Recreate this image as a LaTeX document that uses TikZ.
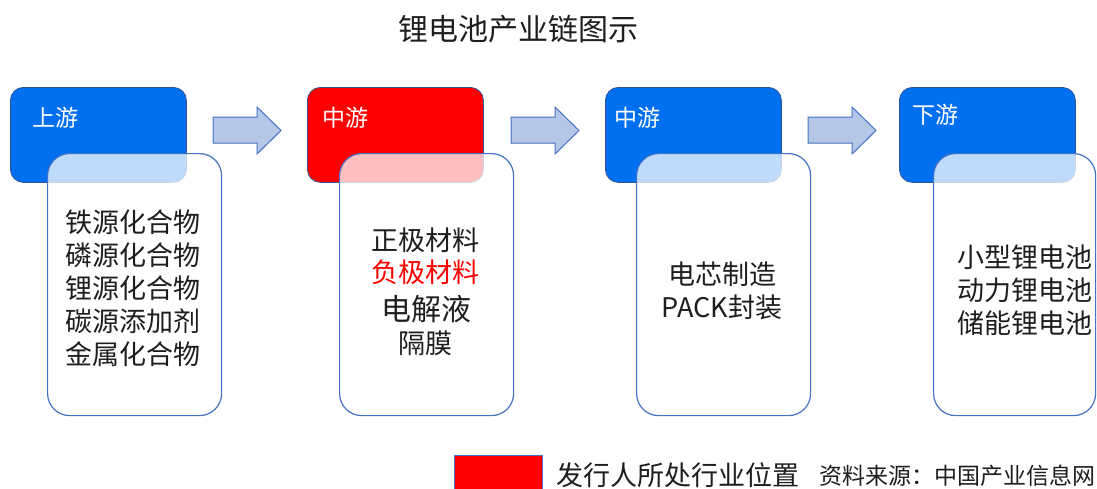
\documentclass[tikz,border=0pt]{standalone}
\usepackage{fontspec}
\setmainfont{Noto Sans CJK SC}
\definecolor{hdrblue}{RGB}{0,112,240}
\definecolor{hdrred}{RGB}{255,0,0}
\definecolor{hdrline}{RGB}{47,85,151}
\definecolor{boxline}{RGB}{68,114,196}
\definecolor{arrfill}{RGB}{180,199,231}
\definecolor{txtgray}{RGB}{30,30,30}
\tikzset{
  hdr/.style={draw=hdrline, line width=0.8pt, rounded corners=13pt, anchor=north west,
    minimum width=176pt, minimum height=95pt, inner sep=0pt},
  bodybox/.style={draw=boxline, line width=1.2pt, rounded corners=22pt, anchor=north west,
    fill=white, fill opacity=0.75, minimum width=174pt, minimum height=262pt, inner sep=0pt},
  hdrtxt/.style={text=white, font=\fontsize{23}{26}\selectfont, anchor=west, inner sep=0pt},
  bodytxt/.style={text=txtgray, font=\fontsize{27}{33}\selectfont, align=center, inner sep=0pt},
  blockarrow/.style={draw=boxline, line width=1pt, fill=arrfill, line join=miter},
}
\begin{document}
\begin{tikzpicture}[x=1pt,y=-1pt]
\useasboundingbox (0,0) rectangle (1097,488);
\fill[white] (0,0) rectangle (1097,488);

\node[text=txtgray, font=\fontsize{30}{32}\selectfont] (title) at (518,29) {锂电池产业链图示};

% headers
\node[hdr, fill=hdrblue] (h1) at (10,87) {};
\node[hdr, fill=hdrred] (h2) at (307,87) {};
\node[hdr, fill=hdrblue] (h3) at (605,87) {};
\node[hdr, fill=hdrblue] (h4) at (899,87) {};

\node[hdrtxt] (t1) at (32,118) {上游};
\node[hdrtxt] (t2) at (322,118) {中游};
\node[hdrtxt] (t3) at (614,118) {中游};
\node[hdrtxt] (t4) at (912,115) {下游};

% body boxes
\node[bodybox] (b1) at (47,153) {};
\node[bodybox] (b2) at (339,153) {};
\node[bodybox] (b3) at (636,153) {};
\node[bodybox, minimum width=162pt] (b4) at (933,153) {};

% body texts
\node[bodytxt] (c1) at (133,288) {铁源化合物\\磷源化合物\\锂源化合物\\碳源添加剂\\金属化合物};
\node[bodytxt] (c2a) at (425,240) {正极材料};
\node[bodytxt, text=red] (c2b) at (425,272) {负极材料};
\node[bodytxt, font=\fontsize{30}{33}\selectfont] (c2c) at (426,309) {电解液};
\node[bodytxt] (c2d) at (425,343) {隔膜};
\node[bodytxt] (c3) at (722,291) {电芯制造\\PACK封装};
\node[bodytxt] (c4) at (1025,290) {小型锂电池\\动力锂电池\\储能锂电池};

% block arrows
\foreach \x/\n in {213/a1, 511/a2, 808/a3}{
  \draw[blockarrow] (\x,117) -- (\x+44,117) -- (\x+44,107) -- (\x+68,130.5)
     -- (\x+44,154) -- (\x+44,143) -- (\x,143) -- cycle;
}

% legend
\node[draw=boxline, line width=0.8pt, fill=red, anchor=north west, minimum width=88pt,
  minimum height=40pt, inner sep=0pt] (leg) at (454,455) {};
\node[text=txtgray, font=\fontsize{27}{30}\selectfont, anchor=west, inner sep=0pt] (legt) at (556,475) {发行人所处行业位置};
\node[text=txtgray, font=\fontsize{23}{26}\selectfont, anchor=west, inner sep=0pt] (src) at (819,476) {资料来源：中国产业信息网};
\end{tikzpicture}
\end{document}
